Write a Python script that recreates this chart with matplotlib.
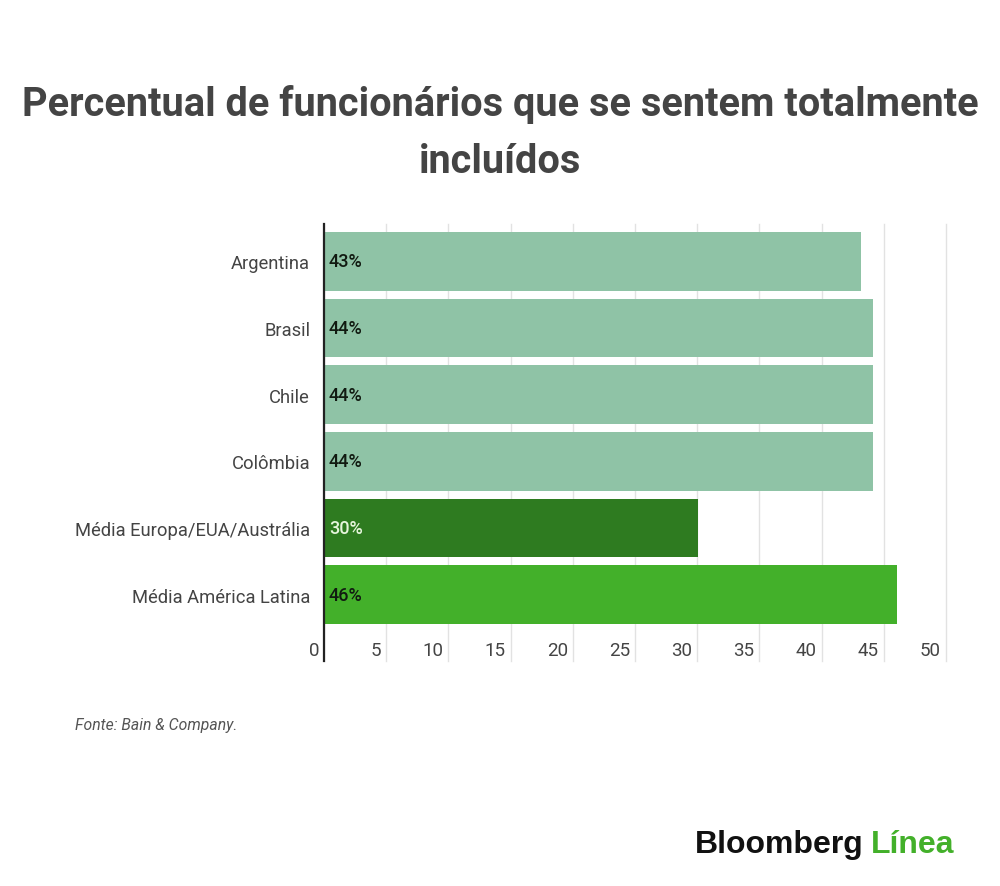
import matplotlib
matplotlib.use("Agg")
import matplotlib.pyplot as plt
import matplotlib.transforms as mtrans

plt.rcParams['font.family'] = ['Roboto', 'DejaVu Sans']

# data
categorias = ["Argentina", "Brasil", "Chile", "Colômbia",
              "Média Europa/EUA/Austrália", "Média América Latina"]
valores = [43.2, 44.1, 44.1, 44.1, 30.1, 46.1]
rotulos = ["43%", "44%", "44%", "44%", "30%", "46%"]
cores = ["#8fc3a6", "#8fc3a6", "#8fc3a6", "#8fc3a6", "#2e7b20", "#43b02a"]
cor_rotulo = ["#111a11", "#111a11", "#111a11", "#111a11", "#e6f5dc", "#111a11"]
ticks_x = [0, 5, 10, 15, 20, 25, 30, 35, 40, 45, 50]

fig = plt.figure(figsize=(10, 8.87), dpi=100)
ax = fig.add_axes([0.324, 0.254, 0.622, 0.492])

y = range(len(categorias))
ax.barh(y, valores, height=0.88, color=cores, zorder=2)
for i, (v, r) in enumerate(zip(valores, rotulos)):
    ax.text(0.4, i, r, va='center', ha='left', fontsize=13,
            color=cor_rotulo[i], fontweight='medium', zorder=3)

ax.set_xlim(0, 50)
ax.set_ylim(5.99, -0.555)
ax.set_yticks(list(y))
ax.set_yticklabels(categorias, fontsize=13.2, color="#444444")
ax.tick_params(axis='y', length=0, pad=10)

ax.set_xticks(ticks_x)
ax.set_xticklabels([str(t) for t in ticks_x], fontsize=13.5, color="#444444")
ax.tick_params(axis='x', length=0, pad=-14, direction='in')
off = mtrans.ScaledTranslation(-5 / 100, 0, fig.dpi_scale_trans)
for lbl in ax.get_xticklabels():
    lbl.set_horizontalalignment('right')
    lbl.set_transform(lbl.get_transform() + off)

ax.grid(axis='x', color="#e2e2e2", linewidth=1, zorder=0)
for g in ax.xaxis.get_gridlines():
    g.set_clip_on(False)
ax.set_axisbelow(True)
for s in ['top', 'right', 'bottom']:
    ax.spines[s].set_visible(False)
ax.spines['left'].set_color("#222222")
ax.spines['left'].set_linewidth(1.6)
ax.spines['left'].set_zorder(4)

# title
fig.text(0.5, 0.882, "Percentual de funcionários que se sentem totalmente",
         ha='center', va='center', fontsize=28.6, fontweight='bold', color="#444444")
fig.text(0.5, 0.817, "incluídos",
         ha='center', va='center', fontsize=28.6, fontweight='bold', color="#444444")

fig.text(0.075, 0.182, "Fonte: Bain & Company.", ha='left', va='center',
         fontsize=11.3, style='italic', color="#555555")

# logo
t1 = fig.text(0.695, 0.047, "Bloomberg", ha='left', va='center',
              fontsize=23, fontweight='bold', color="#111111",
              family='Liberation Sans')
ax.annotate("Línea", xy=(1, 0), xycoords=t1, xytext=(5, 0),
            textcoords='offset points', ha='left', va='bottom',
            fontsize=23, fontweight='bold', color="#43b02a",
            family='Liberation Sans', annotation_clip=False)

fig.savefig("out.png", dpi=100, facecolor='white')
